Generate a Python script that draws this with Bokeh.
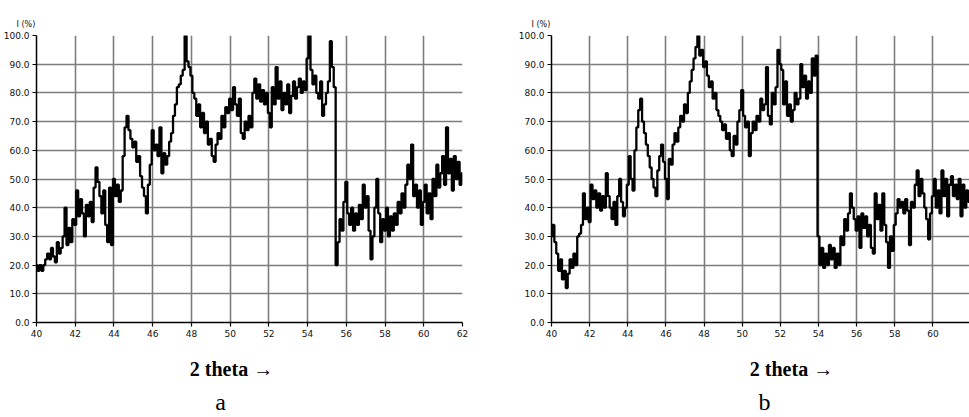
from bokeh.plotting import figure
from bokeh.layouts import row, column
from bokeh.models import FixedTicker, PrintfTickFormatter, Range1d, Title
from bokeh.core.properties import value
from bokeh.embed import file_html
from bokeh.resources import INLINE

# 2-theta scan positions (degrees), step 0.1
theta_a = [round(40 + 0.1 * i, 1) for i in range(221)]   # 40.0 .. 62.0
theta_b = [round(40 + 0.1 * i, 1) for i in range(220)]   # 40.0 .. 61.9

# Relative intensity I (%) – panel a
intensity_a = [
    20, 18, 20, 18, 20, 22, 24, 22, 26, 23,   # 40
    21, 28, 24, 26, 30, 40, 27, 33, 28, 36,   # 41
    34, 46, 37, 43, 38, 30, 41, 37, 42, 35,   # 42
    47, 54, 49, 44, 38, 46, 34, 28, 47, 27,   # 43
    50, 44, 48, 42, 46, 58, 68, 72, 67, 64,   # 44
    61, 63, 56, 58, 51, 47, 44, 38, 48, 55,   # 45
    67, 60, 62, 58, 68, 52, 59, 55, 58, 63,   # 46
    66, 72, 76, 82, 83, 86, 88, 100, 91, 89,  # 47
    86, 80, 78, 72, 76, 68, 73, 66, 70, 62,   # 48
    64, 58, 56, 62, 66, 64, 72, 68, 75, 73,   # 49
    78, 74, 82, 76, 72, 78, 66, 64, 70, 67,   # 50
    72, 68, 80, 85, 78, 83, 77, 81, 76, 80,   # 51
    73, 68, 82, 76, 89, 78, 84, 74, 80, 76,   # 52
    83, 73, 79, 84, 78, 82, 85, 80, 84, 81,   # 53
    92, 100, 88, 83, 86, 80, 78, 84, 72, 76,  # 54
    80, 84, 98, 89, 82, 20, 28, 36, 32, 42,   # 55
    49, 38, 34, 40, 32, 38, 34, 41, 36, 48,   # 56
    40, 44, 32, 22, 30, 40, 50, 38, 28, 36,   # 57
    32, 40, 30, 37, 32, 38, 34, 42, 38, 45,   # 58
    40, 48, 55, 50, 62, 44, 48, 40, 46, 34,   # 59
    42, 48, 38, 45, 36, 50, 44, 55, 47, 52,   # 60
    58, 48, 68, 52, 57, 46, 58, 50, 56, 48,   # 61
    52,                                       # 62
]

# Relative intensity I (%) – panel b
intensity_b = [
    30, 34, 28, 24, 18, 22, 15, 18, 12, 17,   # 40
    22, 19, 24, 20, 30, 31, 34, 45, 36, 40,   # 41
    35, 48, 43, 46, 40, 45, 39, 44, 40, 52,   # 42
    44, 40, 36, 42, 34, 44, 50, 42, 37, 40,   # 43
    48, 58, 50, 46, 60, 68, 74, 78, 70, 66,   # 44
    62, 58, 54, 50, 47, 44, 53, 58, 62, 56,   # 45
    50, 43, 57, 55, 62, 66, 63, 68, 72, 70,   # 46
    76, 73, 80, 84, 88, 92, 96, 100, 93, 95,  # 47
    89, 91, 86, 82, 84, 78, 80, 74, 72, 70,   # 48
    67, 69, 64, 66, 60, 58, 65, 62, 70, 74,   # 49
    81, 72, 68, 70, 58, 66, 70, 67, 72, 70,   # 50
    78, 74, 76, 89, 72, 69, 80, 76, 82, 95,   # 51
    90, 88, 76, 84, 72, 76, 70, 74, 80, 76,   # 52
    78, 90, 82, 86, 78, 84, 80, 92, 86, 93,   # 53
    30, 20, 26, 19, 24, 20, 27, 22, 26, 19,   # 54
    24, 20, 30, 27, 36, 32, 38, 45, 40, 36,   # 55
    32, 37, 26, 38, 33, 37, 30, 34, 26, 24,   # 56
    45, 36, 41, 32, 45, 34, 28, 19, 30, 25,   # 57
    34, 38, 43, 40, 42, 38, 43, 39, 27, 42,   # 58
    40, 48, 53, 44, 50, 45, 40, 36, 29, 38,   # 59
    44, 50, 40, 46, 38, 53, 44, 50, 37, 48,   # 60
    51, 44, 48, 43, 50, 37, 48, 40, 46, 42,   # 61
]

x_ticks = [40, 42, 44, 46, 48, 50, 52, 54, 56, 58, 60, 62]
y_ticks = [0, 10, 20, 30, 40, 50, 60, 70, 80, 90, 100]
y_label = "I (%)"
x_label = "2 theta \u2192"
panel_names = ["a", "b"]

GRID = "#7d7d7d"
TOP_H = 348
CAP_H = 417 - TOP_H


def make_panel(xs, ys, width, border_left, border_right, border_top,
               border_bottom, x_end):
    p = figure(width=width, height=TOP_H, output_backend="svg", toolbar_location=None,
               x_range=Range1d(40, x_end), y_range=Range1d(0, 100),
               min_border_left=border_left, min_border_right=border_right,
               min_border_top=border_top, min_border_bottom=border_bottom)
    p.outline_line_color = None
    p.background_fill_color = "white"
    p.border_fill_color = "white"

    p.step(xs, ys, mode="center", line_color="black", line_width=2.3)

    p.xaxis.ticker = FixedTicker(ticks=x_ticks)
    p.yaxis.ticker = FixedTicker(ticks=y_ticks)
    p.yaxis.formatter = PrintfTickFormatter(format="%.1f")
    for ax in (p.xaxis, p.yaxis):
        ax.axis_line_color = "black"
        ax.axis_line_width = 1.5
        ax.major_tick_line_color = "black"
        ax.major_tick_line_width = 1.2
        ax.major_tick_out = 4
        ax.major_tick_in = 0
        ax.minor_tick_line_color = None
        ax.major_label_text_font = "DejaVu Sans"
        ax.major_label_text_font_size = "9px"
        ax.major_label_text_color = "#111111"
        ax.major_label_standoff = 3

    p.xgrid.grid_line_color = GRID
    p.ygrid.grid_line_color = GRID
    p.xgrid.grid_line_width = 1.6
    p.ygrid.grid_line_width = 1.6
    p.xgrid.ticker = FixedTicker(ticks=x_ticks)
    p.ygrid.ticker = FixedTicker(ticks=y_ticks)

    top = Title(text=y_label, align="left", offset=-20, standoff=13,
                text_font="DejaVu Sans", text_font_size="8px",
                text_font_style="normal", text_color="#111111")
    p.add_layout(top, "above")
    return p


def make_caption(width, name, label_x, name_x):
    # a bare strip under the panel, in pixel-like units (y measured from its top)
    c = figure(width=width, height=CAP_H, output_backend="svg", toolbar_location=None,
               x_range=Range1d(0, width), y_range=Range1d(CAP_H, 0),
               x_axis_location=None, y_axis_location=None,
               min_border=0, min_border_left=0, min_border_right=0,
               min_border_top=0, min_border_bottom=0)
    c.outline_line_color = None
    c.grid.visible = False
    c.background_fill_color = "white"
    c.border_fill_color = "white"
    c.text(x=[label_x], y=[20], text=[x_label], text_align="center",
           text_baseline="middle", text_font=value("Liberation Serif"),
           text_font_size="20px", text_font_style="bold", text_color="black")
    c.text(x=[name_x], y=[53], text=[name], text_align="center",
           text_baseline="middle", text_font=value("Liberation Serif"),
           text_font_size="24px", text_color="black")
    return c


pa = make_panel(theta_a, intensity_a, 485, 35, 23, 34, 23, 62)
pb = make_panel(theta_b, intensity_b, 484, 66, 0, 35, 26, 61.92)
ca = make_caption(485, panel_names[0], 231, 220)
cb = make_caption(484, panel_names[1], 306, 279)

layout = column(row(pa, pb), row(ca, cb))
open("out.html", "w").write(file_html(layout, INLINE))
